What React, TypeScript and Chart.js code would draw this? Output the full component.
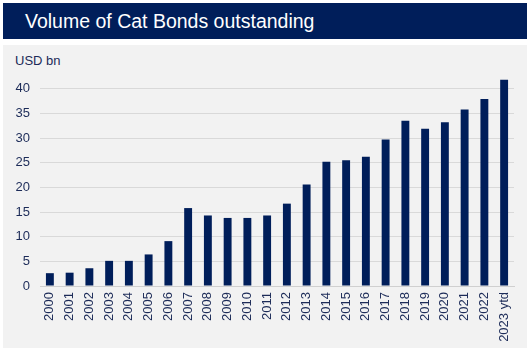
import React, { useEffect, useRef } from "react";
import { Chart, registerables } from "chart.js";

Chart.register(...registerables);

const title = "Volume of Cat Bonds outstanding";
const unitLabel = "USD bn";
const years = [
  "2000", "2001", "2002", "2003", "2004", "2005", "2006", "2007", "2008", "2009",
  "2010", "2011", "2012", "2013", "2014", "2015", "2016", "2017", "2018", "2019",
  "2020", "2021", "2022", "2023 ytd",
];
const volumes = [
  2.6, 2.7, 3.6, 5.1, 5.1, 6.4, 9.1, 15.8, 14.3, 13.8,
  13.8, 14.3, 16.7, 20.6, 25.2, 25.5, 26.2, 29.7, 33.5, 31.9,
  33.2, 35.8, 37.9, 41.8,
];
const yTicks = [0, 5, 10, 15, 20, 25, 30, 35, 40];

const NAVY = "#001e5a";
const TEXT = "#1c2b58";
const FONT = "'Liberation Sans', Arial, sans-serif";

export default function App() {
  const ref = useRef<HTMLCanvasElement | null>(null);
  useEffect(() => {
    if (!ref.current) return;
    const chart = new Chart(ref.current, {
      type: "bar",
      data: {
        labels: years,
        datasets: [
          {
            data: volumes,
            backgroundColor: NAVY,
            borderWidth: 0,
            barPercentage: 0.4,
            categoryPercentage: 1,
          },
        ],
      },
      options: {
        animation: false,
        responsive: false,
        maintainAspectRatio: false,
        layout: { padding: { top: 24, left: 0, right: 13, bottom: 0 } },
        plugins: { legend: { display: false }, tooltip: { enabled: false } },
        scales: {
          x: {
            grid: { display: false, drawTicks: false },
            border: { display: true, color: "#d0d0d0" },
            ticks: {
              autoSkip: false,
              maxRotation: 90,
              minRotation: 90,
              padding: 6,
              color: TEXT,
              font: { family: FONT, size: 13 },
            },
            afterFit: (s: any) => {
              s.height = 64;
            },
          },
          y: {
            min: 0,
            max: 44,
            afterBuildTicks: (s: any) => {
              s.ticks = yTicks.map((v) => ({ value: v }));
            },
            grid: { color: "#d9d9d9", drawTicks: false },
            border: { display: false },
            ticks: {
              padding: 10,
              color: TEXT,
              font: { family: FONT, size: 13 },
            },
            afterFit: (s: any) => {
              s.width = 37;
            },
          },
        },
      },
    });
    return () => chart.destroy();
  }, []);

  return (
    <div style={{ position: "absolute", left: 0, top: 0, width: 532, height: 350, background: "#fff", fontFamily: FONT }}>
      <div
        style={{
          position: "absolute",
          left: 3,
          top: 3,
          width: 524,
          height: 36,
          background: NAVY,
          color: "#fff",
          fontSize: 19.5,
          lineHeight: "37px",
          paddingLeft: 22,
          boxSizing: "border-box",
        }}
      >
        {title}
      </div>
      <div
        style={{
          position: "absolute",
          left: 3,
          top: 45,
          width: 524,
          height: 303,
          background: "#f2f2f2",
        }}
      />
      <div style={{ position: "absolute", left: 15, top: 53, fontSize: 13, color: TEXT }}>{unitLabel}</div>
      <canvas ref={ref} width={524} height={305} style={{ position: "absolute", left: 3, top: 45, width: 524, height: 305 }} />
    </div>
  );
}
